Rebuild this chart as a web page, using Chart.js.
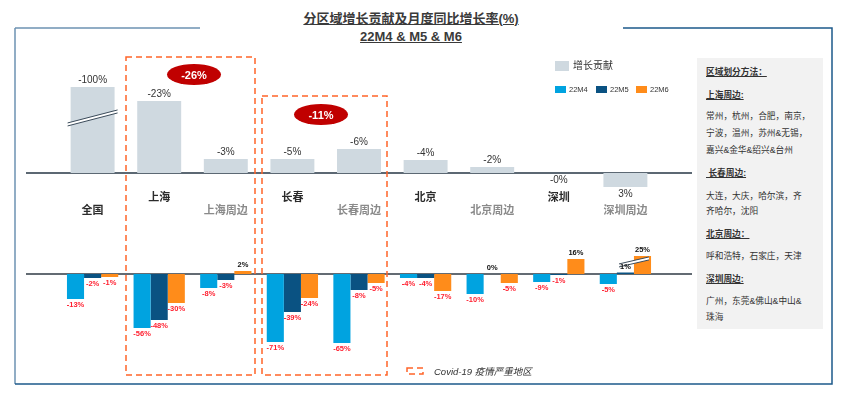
<!DOCTYPE html>
<html>
<head>
<meta charset="utf-8">
<script src="https://cdn.jsdelivr.net/npm/chart.js@4/dist/chart.umd.min.js"></script>
<style>
  body { margin: 0; width: 846px; height: 394px; position: relative; overflow: hidden; background: #fff;
         font-family: "Liberation Sans", "Noto Sans CJK SC", sans-serif; color: #333; }
  .abs { position: absolute; }
  #title { left: 0; width: 822px; top: 10px; text-align: center; font-weight: bold; font-size: 13px; line-height: 18px; color: #3a3a3a; }
  #title span { text-decoration: underline; }
  #topWrap { left: 26px; top: 40px; width: 666px; height: 185px; }
  #botWrap { left: 26px; top: 230px; width: 666px; height: 140px; }
  .sw { position: absolute; }
  .lg { position: absolute; white-space: nowrap; }
  #side { left: 697px; top: 58px; width: 126px; height: 271px; background: #f2f2f2; }
  #side div { position: absolute; left: 9px; font-size: 8.7px; white-space: nowrap; color: #333; line-height: 12px; }
  #side div.h { font-weight: bold; text-decoration: underline; }
  svg { position: absolute; left: 0; top: 0; pointer-events: none; }
</style>
</head>
<body>
<div id="title" class="abs"><span>分区域增长贡献及月度同比增长率(%)</span><br><span>22M4 &amp; M5 &amp; M6</span></div>

<div id="topWrap" class="abs"><canvas id="topChart"></canvas></div>
<div id="botWrap" class="abs"><canvas id="botChart"></canvas></div>

<!-- legends -->
<div class="sw" style="left:555px;top:61px;width:14px;height:10px;background:#cfd9e0"></div>
<div class="lg" style="left:573px;top:59px;font-size:10px;line-height:14px">增长贡献</div>
<div class="sw" style="left:555px;top:86px;width:11px;height:7px;background:#00a3e0"></div>
<div class="lg" style="left:569px;top:85px;font-size:7.5px;line-height:9px">22M4</div>
<div class="sw" style="left:596px;top:86px;width:11px;height:7px;background:#0a5282"></div>
<div class="lg" style="left:610px;top:85px;font-size:7.5px;line-height:9px">22M5</div>
<div class="sw" style="left:636px;top:86px;width:11px;height:7px;background:#ff8c1a"></div>
<div class="lg" style="left:650px;top:85px;font-size:7.5px;line-height:9px">22M6</div>

<!-- region definitions -->
<div id="side" class="abs">
  <div class="h" style="top:8px">区域划分方法：</div>
  <div class="h" style="top:31px">上海周边:</div>
  <div style="top:52px">常州，杭州，合肥，南京，</div>
  <div style="top:69px">宁波，温州，苏州&amp;无锡，</div>
  <div style="top:86px">嘉兴&amp;金华&amp;绍兴&amp;台州</div>
  <div class="h" style="top:109px">&nbsp;长春周边:</div>
  <div style="top:132px">大连，大庆，哈尔滨，齐</div>
  <div style="top:147px">齐哈尔，沈阳</div>
  <div class="h" style="top:170px">北京周边：</div>
  <div style="top:192px">呼和浩特，石家庄，天津</div>
  <div class="h" style="top:215px">深圳周边:</div>
  <div style="top:237px">广州，东莞&amp;佛山&amp;中山&amp;</div>
  <div style="top:253px">珠海</div>
</div>

<svg width="846" height="394">
  <g stroke-width="1.5" fill="none">
    <path d="M15 28 H200 M15 28 V384" stroke="#6d92b3"/>
    <path d="M623 28 H832 V384 H15" stroke="#1d5a8b"/>
  </g>
  <g stroke="#ff6428" stroke-width="1.5" stroke-dasharray="6 4" fill="none">
    <rect x="126" y="57" width="129" height="318"/>
    <rect x="262" y="96" width="125" height="279"/>
    <rect x="407" y="368" width="16" height="6"/>
  </g>
  <ellipse cx="194" cy="74.5" rx="27" ry="10.5" fill="#c00000"/>
  <text x="194" y="78.5" fill="#fff" font-size="11" font-weight="bold" text-anchor="middle" font-family="Liberation Sans">-26%</text>
  <ellipse cx="321" cy="114.5" rx="27" ry="10.5" fill="#c00000"/>
  <text x="321" y="118.5" fill="#fff" font-size="11" font-weight="bold" text-anchor="middle" font-family="Liberation Sans">-11%</text>
  <text x="434" y="375" fill="#333" font-size="9.5" font-style="italic" font-family="Liberation Sans, Noto Sans CJK SC">Covid-19 疫情严重地区</text>
</svg>

<script>
// categories along the shared x axis
const categories = ['全国', '上海', '上海周边', '长春', '长春周边', '北京', '北京周边', '深圳', '深圳周边'];

// growth contribution: printed values, and bar lengths as drawn (全国 bar is broken)
const contribution = [-100, -23, -3, -5, -6, -4, -2, -0, 3];
const contributionBar = [-27.5, -23, -4.5, -4.5, -7.7, -4.2, -1.9, 0, 4.5];

// monthly YoY growth: printed values
const m4 = [-13, -56, -8, -71, -65, -4, -10, -9, -5];
const m5 = [-2, -48, -3, -39, -8, -4, 0, -1, 1];
const m6 = [-1, -30, 2, -24, -5, -17, -5, 16, 25];
// bar lengths as drawn in the picture (small bars are exaggerated, 25% is broken)
const m4Bar = [-25, -54, -14, -68, -69, -4, -20, -8, -10];
const m5Bar = [-4, -46, -6, -38, -16, -4, 0, -1, 1.5];
const m6Bar = [-3, -29, 3, -24, -9, -17, -9, 15, 18];

// pad with an empty slot at each end so the axis line runs past the outer bars
const pad = arr => [null, ...arr, null];
const labels = pad(categories).map(c => c || '');
const fmt = v => (Object.is(v, -0) ? '-0' : String(v)) + '%';

function drawBreak(ctx, cx, cy, len, rise, gap) {
  const dx = len / 2, dy = rise / 2, g = gap / 2;
  ctx.save();
  ctx.beginPath();
  ctx.moveTo(cx - dx, cy + dy - g); ctx.lineTo(cx + dx, cy - dy - g);
  ctx.lineTo(cx + dx, cy - dy + g); ctx.lineTo(cx - dx, cy + dy + g);
  ctx.closePath();
  ctx.fillStyle = '#fff';
  ctx.fill();
  ctx.strokeStyle = '#3b4b5a';
  ctx.lineWidth = 1;
  ctx.beginPath();
  ctx.moveTo(cx - dx, cy + dy - g); ctx.lineTo(cx + dx, cy - dy - g);
  ctx.moveTo(cx - dx, cy + dy + g); ctx.lineTo(cx + dx, cy - dy + g);
  ctx.stroke();
  ctx.restore();
}

// zero line across the whole plot width
const baseline = {
  id: 'baseline',
  beforeDatasetsDraw(chart, args, opts) {
    const { ctx, chartArea } = chart;
    const y = chart.scales.y.getPixelForValue(0);
    ctx.save();
    ctx.strokeStyle = opts.color;
    ctx.lineWidth = opts.width;
    ctx.beginPath();
    ctx.moveTo(chartArea.left, y);
    ctx.lineTo(chartArea.right, y);
    ctx.stroke();
    ctx.restore();
  }
};

// axis breaks + value labels
const barLabels = {
  id: 'barLabels',
  afterDatasetsDraw(chart, args, opts) {
    const ctx = chart.ctx;
    (opts.breaks || []).forEach(b => {
      const bar = chart.getDatasetMeta(b.ds).data[b.index + 1];
      const top = Math.min(bar.y, bar.base), h = Math.abs(bar.base - bar.y);
      drawBreak(ctx, bar.x + b.dx, top + h * b.t, b.len, b.rise, 3);
    });
    ctx.save();
    ctx.textAlign = 'center';
    ctx.textBaseline = 'middle';
    chart.data.datasets.forEach((ds, di) => {
      chart.getDatasetMeta(di).data.forEach((bar, i) => {
        const v = ds.printed[i];
        if (v === null || v === undefined) return;
        const neg = v < 0;
        const up = opts.reversed ? neg : !neg;
        ctx.font = opts.font;
        ctx.fillStyle = neg ? opts.negColor : opts.posColor;
        const y = up ? Math.min(bar.y, bar.base) - opts.gap : Math.max(bar.y, bar.base) + opts.gap;
        ctx.fillText(fmt(v), bar.x, y);
      });
    });
    ctx.restore();
  }
};

// region names between the two panels, on two staggered rows
const categoryNames = {
  id: 'categoryNames',
  afterDraw(chart) {
    const ctx = chart.ctx;
    const base = chart.scales.y.getPixelForValue(0);
    ctx.save();
    ctx.textAlign = 'center';
    ctx.textBaseline = 'middle';
    ctx.font = 'bold 11px "Noto Sans CJK SC", sans-serif';
    categories.forEach((c, i) => {
      const x = chart.scales.x.getPixelForValue(i + 1);
      ctx.fillStyle = c.endsWith('周边') ? '#8a8a8a' : '#2b2b2b';
      ctx.fillText(c, x, base + (i % 2 === 1 ? 24 : 37));
    });
    ctx.restore();
  }
};

const commonOptions = (y, plugins) => ({
  responsive: true,
  maintainAspectRatio: false,
  animation: false,
  layout: { padding: 0 },
  scales: {
    x: { type: 'category', offset: false, display: false },
    y: Object.assign({ display: false }, y)
  },
  plugins: Object.assign({ legend: { display: false }, tooltip: { enabled: false } }, plugins)
});

new Chart(document.getElementById('topChart'), {
  type: 'bar',
  data: {
    labels: labels,
    datasets: [{
      label: '增长贡献',
      data: pad(contributionBar),
      printed: pad(contribution),
      backgroundColor: '#cfd9e0',
      categoryPercentage: 0.66,
      barPercentage: 1
    }]
  },
  options: commonOptions(
    { reverse: true, min: -42.5, max: 16.6 },
    {
      baseline: { color: '#5c6873', width: 2 },
      barLabels: {
        reversed: true, font: '10px "Liberation Sans", sans-serif', gap: 7,
        negColor: '#333', posColor: '#333',
        breaks: [{ ds: 0, index: 0, dx: 0, t: 0.36, len: 50, rise: 13 }]
      }
    }
  ),
  plugins: [baseline, barLabels, categoryNames]
});

const monthColors = ['#00a3e0', '#0a5282', '#ff8c1a'];
new Chart(document.getElementById('botChart'), {
  type: 'bar',
  data: {
    labels: labels,
    datasets: [
      { label: '22M4', data: pad(m4Bar), printed: pad(m4), backgroundColor: monthColors[0] },
      { label: '22M5', data: pad(m5Bar), printed: pad(m5), backgroundColor: monthColors[1] },
      { label: '22M6', data: pad(m6Bar), printed: pad(m6), backgroundColor: monthColors[2] }
    ]
  },
  options: Object.assign(commonOptions(
    { min: -96, max: 44 },
    {
      baseline: { color: '#2f3a44', width: 1.3 },
      barLabels: {
        reversed: false, font: 'bold 7.5px "Liberation Sans", sans-serif', gap: 6,
        negColor: '#ff1f2f', posColor: '#111',
        breaks: [{ ds: 2, index: 8, dx: -8.5, t: 0.33, len: 30, rise: 7 }]
      }
    }
  ), { datasets: { bar: { categoryPercentage: 0.77, barPercentage: 1 } } }),
  plugins: [baseline, barLabels]
});
</script>
</body>
</html>
